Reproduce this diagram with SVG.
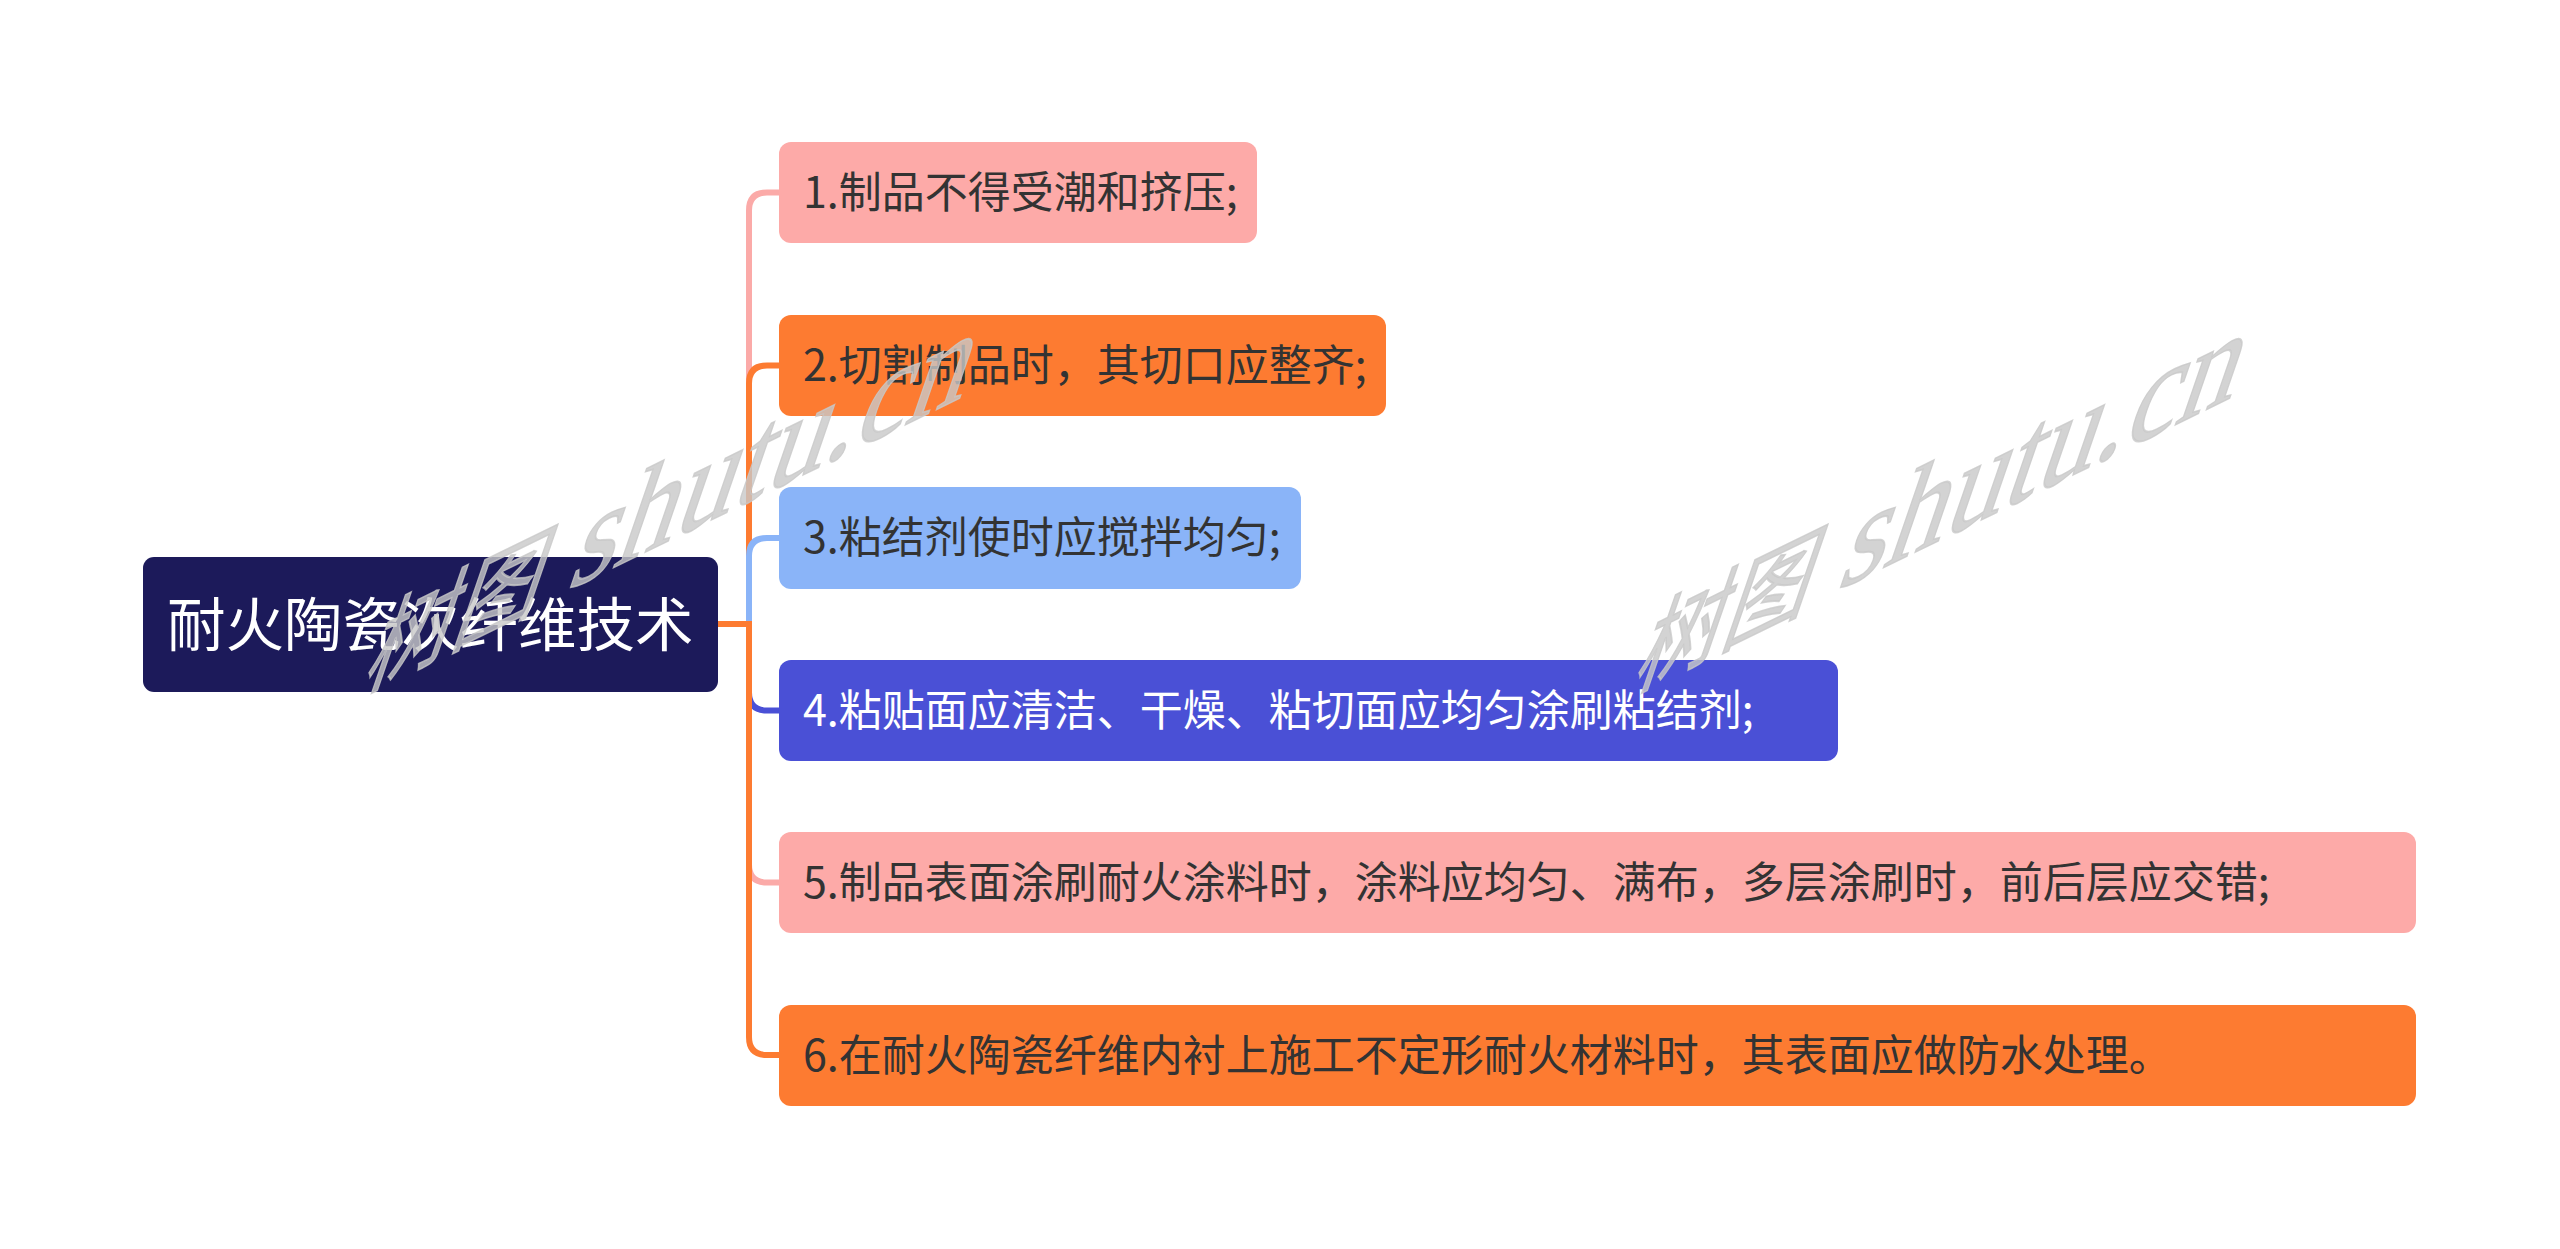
<svg xmlns="http://www.w3.org/2000/svg" width="2560" height="1249" viewBox="0 0 2560 1249">
  <style>
    .node-text { font-family: "Noto Sans CJK SC", "Liberation Sans", sans-serif; font-size: 43px; fill: #333333; }
    .root-text { font-family: "Noto Sans CJK SC", "Liberation Sans", sans-serif; font-size: 58.5px; fill: #ffffff; }
    .conn { fill: none; stroke-width: 6; stroke-linecap: butt; }
    .wm { font-family: "Liberation Serif", "Noto Sans CJK SC", serif; fill: #c8c8c8; fill-opacity: 0.8; stroke: #c8c8c8; stroke-opacity: 0.8; stroke-width: 1.5; }
  </style>
  <rect x="0" y="0" width="2560" height="1249" fill="#ffffff"/>

  <g id="connectors">
    <path class="conn" stroke="#fbaaa8" d="M749 624 V210.5 Q749 192.5 767 192.5 H785"/>
    <path class="conn" stroke="#fbaaa8" d="M749 624 V864.5 Q749 882.5 767 882.5 H785"/>
    <path class="conn" stroke="#4a50d6" d="M749 624 V692.5 Q749 710.5 767 710.5 H785"/>
    <path class="conn" stroke="#fd7b31" d="M749 624 V383.5 Q749 365.5 767 365.5 H785"/>
    <path class="conn" stroke="#fd7b31" d="M749 624 V1037 Q749 1055 767 1055 H785"/>
    <path class="conn" stroke="#8ab4f8" d="M749 624 V556 Q749 538 767 538 H785"/>
    <path class="conn" stroke="#fd7b31" d="M716 624 H752"/>
  </g>

  <g id="root">
    <rect x="143" y="557" width="575" height="135" rx="11" fill="#1c1a5a"/>
    <text class="root-text" x="167" y="646">耐火陶瓷次纤维技术</text>
  </g>

  <g id="node1">
    <rect x="779" y="142" width="478" height="101" rx="12" fill="#fdaaa8"/>
    <text class="node-text" x="803" y="208">1.制品不得受潮和挤压;</text>
  </g>
  <g id="node2">
    <rect x="779" y="315" width="607" height="101" rx="12" fill="#fd7b31"/>
    <text class="node-text" x="803" y="381">2.切割制品时，其切口应整齐;</text>
  </g>
  <g id="node3">
    <rect x="779" y="487" width="522" height="102" rx="12" fill="#8ab4f8"/>
    <text class="node-text" x="803" y="553">3.粘结剂使时应搅拌均匀;</text>
  </g>
  <g id="node4">
    <rect x="779" y="660" width="1059" height="101" rx="12" fill="#4a50d6"/>
    <text class="node-text" x="803" y="726" style="fill:#ffffff">4.粘贴面应清洁、干燥、粘切面应均匀涂刷粘结剂;</text>
  </g>
  <g id="node5">
    <rect x="779" y="832" width="1637" height="101" rx="12" fill="#fdaaa8"/>
    <text class="node-text" x="803" y="898">5.制品表面涂刷耐火涂料时，涂料应均匀、满布，多层涂刷时，前后层应交错;</text>
  </g>
  <g id="node6">
    <rect x="779" y="1005" width="1637" height="101" rx="12" fill="#fd7b31"/>
    <text class="node-text" x="803" y="1071">6.在耐火陶瓷纤维内衬上施工不定形耐火材料时，其表面应做防水处理。</text>
  </g>

  <g id="watermarks">
    <g transform="matrix(1,-0.49,-0.42,1.22,360,692)">
      <text class="wm" x="0" y="0" font-size="88">树图</text>
      <text class="wm" x="205" y="0" font-size="118">shutu.cn</text>
    </g>
    <g transform="matrix(1,-0.49,-0.42,1.22,1630,692)">
      <text class="wm" x="0" y="0" font-size="88">树图</text>
      <text class="wm" x="205" y="0" font-size="118">shutu.cn</text>
    </g>
  </g>
</svg>
